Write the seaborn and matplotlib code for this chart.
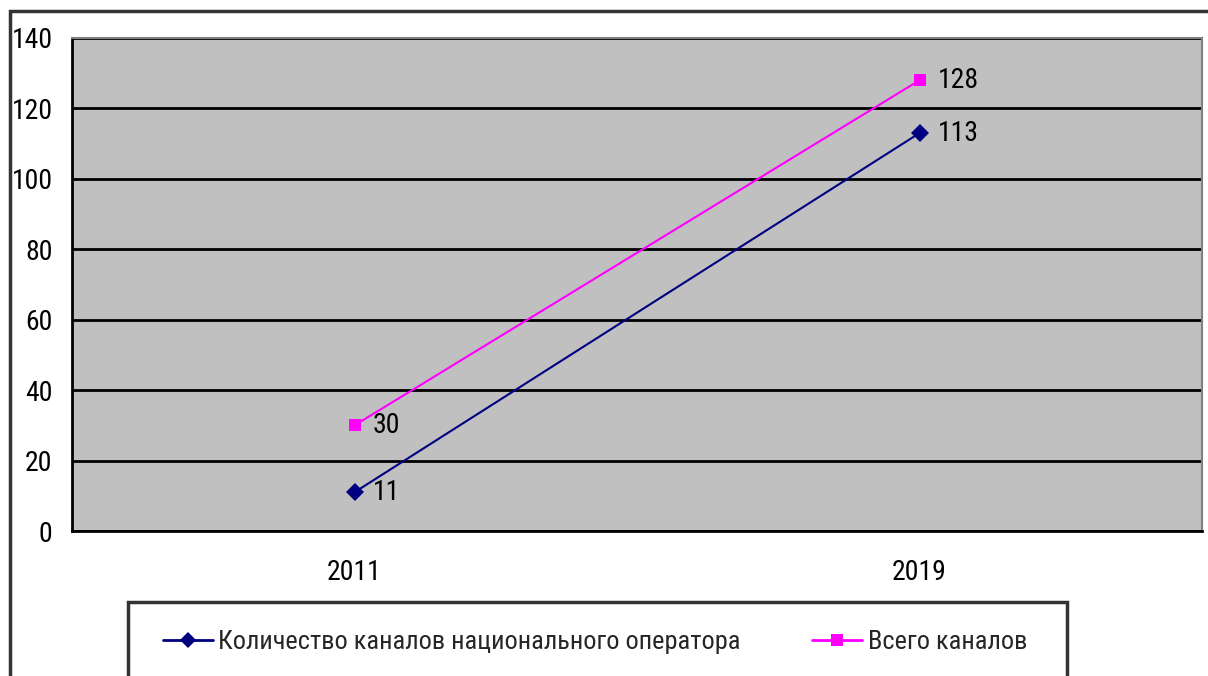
"""
Line chart: number of TV channels, 2011 vs 2019.
"""
import pandas as pd
import matplotlib.pyplot as plt
import matplotlib.lines as mlines
from matplotlib.patches import Rectangle
import seaborn as sns

years = ["2011", "2019"]
national_operator = [11, 113]
all_channels = [30, 128]
series_names = ["Количество каналов национального оператора", "Всего каналов"]

COLORS = {series_names[0]: "#000080", series_names[1]: "#FF00FF"}
MARKERS = {series_names[0]: "D", series_names[1]: "s"}
FS = 20
LEGEND_FS = 19

sns.set_theme(style="white")
plt.rcParams['font.family'] = ['Roboto Condensed', 'PT Sans Narrow', 'Liberation Sans', 'DejaVu Sans']
plt.rcParams['font.size'] = FS

df = pd.DataFrame({
    "year": years * 2,
    "pos": list(range(len(years))) * 2,
    "value": national_operator + all_channels,
    "series": [series_names[0]] * len(years) + [series_names[1]] * len(years),
})

W, H = 1208, 676
fig = plt.figure(figsize=(W / 100, H / 100), dpi=100)
ax = fig.add_axes([72 / W, 1 - 531 / H, (1202 - 72) / W, (531 - 38) / H])
ax.set_facecolor("#C0C0C0")

sns.lineplot(data=df, x="pos", y="value", hue="series", style="series",
             palette=COLORS, markers=MARKERS, dashes=False, markersize=9,
             markeredgewidth=0, linewidth=1.5, ax=ax, legend=False)

for _, row in df.iterrows():
    ax.annotate(str(row["value"]), (row["pos"], row["value"]),
                xytext=(13, 0), textcoords="offset points",
                ha="left", va="center", fontsize=FS, color="black")

ax.set_xlim(-0.5, len(years) - 0.5)
ax.set_ylim(0, 140)
ax.set_yticks(range(0, 141, 20))
ax.set_xticks([i - 0.5 for i in range(len(years) + 1)])
ax.set_xticklabels([])
ax.set_xticks(range(len(years)), minor=True)
ax.set_xticklabels(years, minor=True)
ax.tick_params(axis="x", which="major", length=6, width=1.5, color="black", direction="out")
ax.tick_params(axis="x", which="minor", length=0, pad=20, labelsize=FS, labelcolor="black")
ax.tick_params(axis="y", length=5, width=1.5, color="black", direction="out", pad=9,
               labelsize=FS, labelcolor="black")
ax.set_xlabel("")
ax.set_ylabel("")

ax.yaxis.grid(True, color="black", linewidth=2)
ax.set_axisbelow(True)
for side in ["left", "bottom"]:
    ax.spines[side].set_color("black")
    ax.spines[side].set_linewidth(2)
for side in ["top", "right"]:
    ax.spines[side].set_color("#808080")
    ax.spines[side].set_linewidth(1.5)

# outer chart frame
fig.patches.append(Rectangle((10 / W, -0.2), 1.2, 1 - 11 / H + 0.2, transform=fig.transFigure,
                             fill=False, edgecolor="#333333", linewidth=2.5))
# legend box
fig.patches.append(Rectangle((128 / W, -0.2), (1067 - 128) / W, 1 - 602 / H + 0.2,
                             transform=fig.transFigure, fill=False,
                             edgecolor="#333333", linewidth=2.5))

handles = [mlines.Line2D([], [], color=COLORS[s], marker=MARKERS[s], markersize=8,
                         markeredgewidth=0, linewidth=2) for s in series_names]
fig.legend(handles, series_names, loc="center left",
           bbox_to_anchor=(163 / W, 1 - 642 / H), ncol=2, frameon=False,
           handlelength=1.9, handletextpad=0.2, columnspacing=2.7,
           borderpad=0, borderaxespad=0, fontsize=LEGEND_FS)

plt.savefig("out.png", dpi=100)
plt.close()
